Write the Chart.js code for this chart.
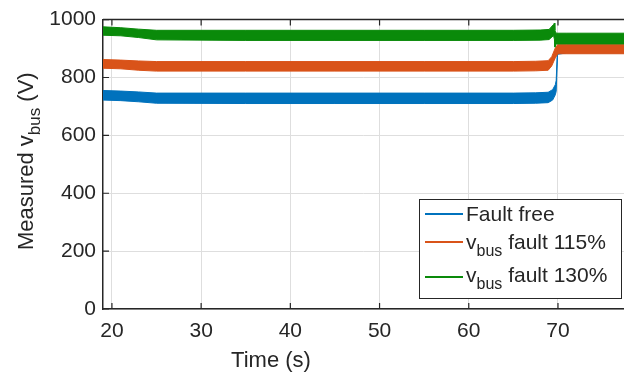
<!DOCTYPE html>
<html>
<head>
<meta charset="utf-8">
<script src="https://cdn.jsdelivr.net/npm/chart.js@4.4.1/dist/chart.umd.min.js"></script>
<style>
  html, body { margin: 0; padding: 0; background: #fff; }
  #wrap { width: 624px; height: 376px; }
</style>
</head>
<body>
<div id="wrap"><canvas id="vbus"></canvas></div>
<script>
const xTicks = [20, 30, 40, 50, 60, 70];
const yTicks = [0, 200, 400, 600, 800, 1000];

// band edges (upper / lower) of each noisy trace, in volts
const blueTime  = [19, 21, 23, 25, 35, 45, 55, 65, 67.5, 68.9, 69.4, 69.7, 69.8, 69.95, 71, 78];
const blueUpper = [755, 753, 750, 746, 746, 746, 746, 746, 747, 749, 758, 775, 790, 905, 908, 908];
const blueLower = [722, 720, 716, 711, 710, 710, 710, 710, 711, 713, 722, 740, 752, 880, 885, 885];

const orangeTime  = [19, 21, 23, 25, 35, 45, 55, 65, 67.5, 68.9, 69.3, 69.7, 70, 71, 78];
const orangeUpper = [862, 860, 857, 855, 855, 855, 855, 855, 856, 858, 872, 902, 915, 915, 915];
const orangeLower = [832, 830, 825, 822, 822, 822, 822, 822, 823, 825, 840, 868, 882, 882, 882];

const greenTime  = [19, 21, 23, 25, 35, 45, 55, 65, 68, 69.0, 69.5, 69.6, 69.65, 69.8, 71, 78];
const greenUpper = [975, 972, 967, 963, 963, 963, 963, 963, 964, 966, 983, 988, 962, 953, 953, 953];
const greenLower = [946, 944, 938, 930, 928, 928, 928, 928, 929, 931, 945, 932, 905, 916, 916, 916];

const BLUE = '#0072BD';
const ORANGE = '#D95319';
const GREEN = '#0A8A0A';
const AXIS = '#262626';
const FONT = '"Liberation Sans", Arial, sans-serif';

const pts = (t, v) => t.map((x, i) => ({ x: x, y: v[i] }));

const band = (t, v, color, fill) => ({
  data: pts(t, v),
  borderColor: color,
  backgroundColor: color,
  borderWidth: 1,
  pointRadius: 0,
  tension: 0,
  fill: fill
});

// draws pre + subscript "bus" + rest on one baseline
const drawVbus = (ctx, x, y, pre, rest, size) => {
  ctx.font = size + 'px ' + FONT;
  ctx.fillText(pre, x, y);
  let w = ctx.measureText(pre).width;
  ctx.font = Math.round(size * 0.75) + 'px ' + FONT;
  ctx.fillText('bus', x + w, y + size * 0.33);
  w += ctx.measureText('bus').width;
  ctx.font = size + 'px ' + FONT;
  ctx.fillText(rest, x + w, y);
};

const decor = {
  id: 'decor',
  afterDraw(chart) {
    const ctx = chart.ctx;
    const a = chart.chartArea;
    const xs = chart.scales.x, ys = chart.scales.y;
    ctx.save();
    ctx.strokeStyle = AXIS;
    ctx.lineWidth = 1.5;
    // top box line
    ctx.beginPath();
    ctx.moveTo(a.left, a.top);
    ctx.lineTo(a.right, a.top);
    ctx.stroke();
    // inward ticks
    ctx.lineWidth = 1.2;
    ctx.beginPath();
    xTicks.forEach(t => {
      const px = xs.getPixelForValue(t);
      ctx.moveTo(px, a.bottom); ctx.lineTo(px, a.bottom - 6);
      ctx.moveTo(px, a.top); ctx.lineTo(px, a.top + 6);
    });
    yTicks.forEach(t => {
      const py = ys.getPixelForValue(t);
      ctx.moveTo(a.left, py); ctx.lineTo(a.left + 6, py);
    });
    ctx.stroke();

    // axis titles
    ctx.fillStyle = AXIS;
    ctx.textBaseline = 'alphabetic';
    ctx.textAlign = 'center';
    ctx.font = '22px ' + FONT;
    ctx.fillText('Time (s)', 271, 367);

    ctx.save();
    ctx.translate(33, 162);
    ctx.rotate(-Math.PI / 2);
    ctx.textAlign = 'left';
    ctx.font = '22px ' + FONT;
    const w1 = ctx.measureText('Measured v').width;
    ctx.font = '16px ' + FONT;
    const w2 = ctx.measureText('bus').width;
    ctx.font = '22px ' + FONT;
    const w3 = ctx.measureText(' (V)').width;
    drawVbus(ctx, -(w1 + w2 + w3) / 2, 0, 'Measured v', ' (V)', 22);
    ctx.restore();

    // legend
    ctx.fillStyle = '#fff';
    ctx.fillRect(419, 199, 202, 99);
    ctx.strokeStyle = AXIS;
    ctx.lineWidth = 1;
    ctx.strokeRect(419.5, 199.5, 202, 99);
    const rows = [
      { color: BLUE, y: 214 },
      { color: ORANGE, y: 242 },
      { color: GREEN, y: 277 }
    ];
    rows.forEach(r => {
      ctx.strokeStyle = r.color;
      ctx.lineWidth = 2;
      ctx.beginPath();
      ctx.moveTo(425, r.y);
      ctx.lineTo(463, r.y);
      ctx.stroke();
    });
    ctx.fillStyle = AXIS;
    ctx.textAlign = 'left';
    ctx.font = '21px ' + FONT;
    ctx.fillText('Fault free', 466, 221);
    drawVbus(ctx, 466, 249, 'v', ' fault 115%', 21);
    drawVbus(ctx, 466, 282, 'v', ' fault 130%', 21);
    ctx.restore();
  }
};

const ctx = document.getElementById('vbus');
const vbusChart = new Chart(ctx, {
  type: 'line',
  data: {
    datasets: [
      band(greenTime, greenUpper, GREEN, false),
      band(greenTime, greenLower, GREEN, 0),
      band(orangeTime, orangeUpper, ORANGE, false),
      band(orangeTime, orangeLower, ORANGE, 2),
      band(blueTime, blueUpper, BLUE, false),
      band(blueTime, blueLower, BLUE, 4)
    ]
  },
  options: {
    responsive: true,
    maintainAspectRatio: false,
    animation: false,
    layout: { padding: { top: 14, right: 0, left: 0, bottom: 0 } },
    plugins: {
      legend: { display: false },
      tooltip: { enabled: false }
    },
    scales: {
      x: {
        type: 'linear',
        min: 19,
        max: 77.4,
        afterBuildTicks: (s) => { s.ticks = xTicks.map(v => ({ value: v })); },
        afterFit: (s) => { s.height = 67; },
        grid: { color: '#dedede', lineWidth: 1, drawTicks: false },
        border: { color: AXIS, width: 1.5 },
        ticks: { color: AXIS, padding: 10, font: { family: FONT, size: 21 }, maxRotation: 0,
                 callback: (v) => String(v) }
      },
      y: {
        min: 0,
        max: 1000,
        afterBuildTicks: (s) => { s.ticks = yTicks.map(v => ({ value: v })); },
        afterFit: (s) => { s.width = 103; },
        grid: { color: '#dedede', lineWidth: 1, drawTicks: false },
        border: { color: AXIS, width: 1.5 },
        ticks: { color: AXIS, padding: 7, font: { family: FONT, size: 21 },
                 callback: (v) => String(v) }
      }
    }
  },
  plugins: [decor]
});
</script>
</body>
</html>
